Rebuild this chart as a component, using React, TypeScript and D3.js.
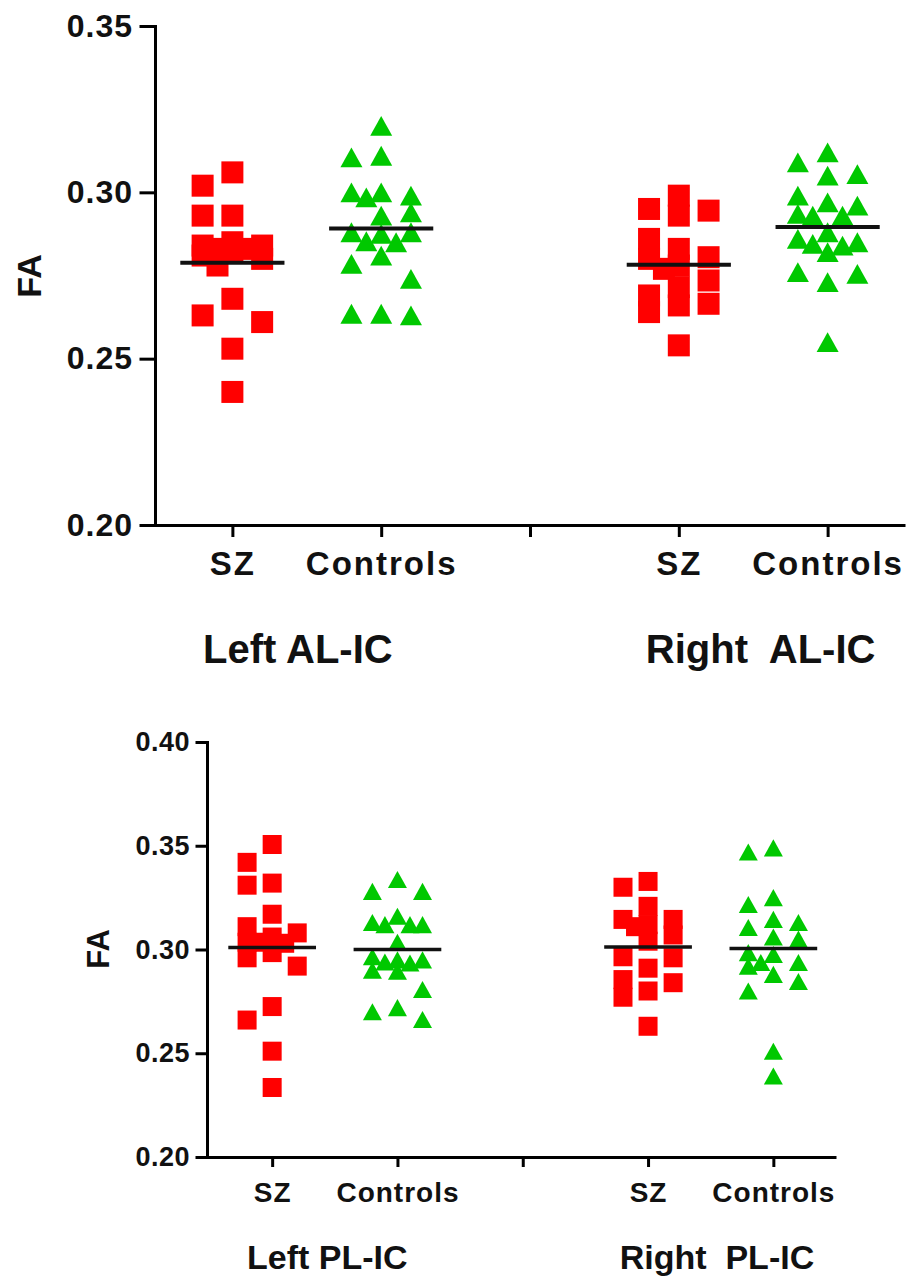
import React, { useRef, useEffect } from 'react';
import * as d3 from "d3";

const width = 910;
const height = 1284;

// category ticks: two groups per region, blank gap in the middle
const tickLabels = ["SZ", "Controls", "", "SZ", "Controls"];
const topRegions = ["Left AL-IC", "Right  AL-IC"];
const bottomRegions = ["Left PL-IC", "Right  PL-IC"];

const topYTicks = [0.20, 0.25, 0.30, 0.35];
const bottomYTicks = [0.20, 0.25, 0.30, 0.35, 0.40];

// AL-IC FA values
const leftALIC_SZ = [0.306, 0.302, 0.293, 0.293, 0.285, 0.284, 0.284, 0.283, 0.283, 0.282, 0.281, 0.280, 0.278, 0.268, 0.263, 0.261, 0.253, 0.240];
const leftALIC_Controls = [0.320, 0.311, 0.3105, 0.300, 0.300, 0.299, 0.2985, 0.294, 0.293, 0.288, 0.288, 0.2875, 0.2853, 0.285, 0.281, 0.2785, 0.274, 0.2635, 0.2635, 0.263];
const rightALIC_SZ = [0.299, 0.295, 0.2945, 0.293, 0.286, 0.283, 0.2805, 0.280, 0.278, 0.277, 0.2735, 0.2715, 0.269, 0.2665, 0.266, 0.264, 0.254];
const rightALIC_Controls = [0.312, 0.309, 0.3055, 0.305, 0.299, 0.297, 0.296, 0.2935, 0.293, 0.293, 0.288, 0.286, 0.285, 0.2845, 0.284, 0.282, 0.276, 0.2755, 0.273, 0.255];

// PL-IC FA values
const leftPLIC_SZ = [0.3506, 0.342, 0.332, 0.331, 0.317, 0.311, 0.308, 0.306, 0.3035, 0.3035, 0.303, 0.2985, 0.296, 0.292, 0.2725, 0.266, 0.251, 0.2335];
const leftPLIC_Controls = [0.3337, 0.328, 0.328, 0.316, 0.313, 0.312, 0.312, 0.312, 0.3035, 0.2965, 0.295, 0.295, 0.294, 0.2935, 0.290, 0.2895, 0.2807, 0.272, 0.270, 0.2663];
const rightPLIC_SZ = [0.3328, 0.330, 0.3208, 0.3145, 0.3145, 0.312, 0.311, 0.307, 0.304, 0.2965, 0.296, 0.291, 0.2855, 0.284, 0.280, 0.277, 0.263];
const rightPLIC_Controls = [0.349, 0.347, 0.325, 0.3217, 0.3145, 0.313, 0.3106, 0.306, 0.305, 0.2985, 0.2976, 0.2937, 0.2937, 0.292, 0.288, 0.2846, 0.280, 0.251, 0.239];

const RED = "#ff0000";
const GREEN = "#00c800";
const FONT = "'Liberation Sans', Arial, sans-serif";

// spread points sideways so markers with close values don't pile up
function spread(values, y, size, step) {
  const order = d3.range(values.length).sort((a, b) => values[b] - values[a]);
  const cands = [0, -1, 1, -0.5, 0.5];
  const placed = [];
  const out = new Array(values.length);
  for (const i of order) {
    const py = y(values[i]);
    let best = 0, bestScore = -Infinity;
    for (const c of cands) {
      const px = c * step;
      let minD = Infinity;
      for (const p of placed) {
        minD = Math.min(minD, Math.max(Math.abs(p.x - px), Math.abs(p.y - py)));
      }
      if (minD >= size + 2) { best = c; break; }
      if (minD > bestScore) { bestScore = minD; best = c; }
    }
    placed.push({ x: best * step, y: py });
    out[i] = best * step;
  }
  return out;
}

const trianglePath = s => {
  const h = s * 0.9;
  return `M0,${-h / 2}L${s / 2},${h / 2}L${-s / 2},${h / 2}Z`;
};

function drawPanel(svg, cfg) {
  const g = svg.append("g");

  const x = d3.scaleLinear().domain([-0.52, cfg.xEnd]).range([cfg.left, cfg.right]);
  const y = d3.scaleLinear().domain(cfg.yDomain).range([cfg.bottom, cfg.top]);

  const yAxis = gg => gg
    .attr("transform", `translate(${cfg.left},0)`)
    .call(d3.axisLeft(y).tickValues(cfg.yTicks).tickFormat(d3.format(".2f"))
      .tickSize(cfg.yTickSize).tickSizeOuter(0).tickPadding(cfg.yTickPad))
    .call(gg => gg.selectAll("path, line").attr("stroke", "#000").attr("stroke-width", 3).attr("stroke-linecap", "square"))
    .call(gg => gg.selectAll("text")
      .attr("font-family", FONT)
      .attr("font-size", cfg.yFont)
      .attr("font-weight", "bold")
      .attr("letter-spacing", cfg.ySpacing)
      .attr("fill", "#111"));

  const xAxis = gg => gg
    .attr("transform", `translate(0,${cfg.bottom})`)
    .call(d3.axisBottom(x).tickValues([0, 1, 2, 3, 4]).tickFormat(i => tickLabels[i])
      .tickSize(cfg.xTickSize).tickSizeOuter(0))
    .call(gg => gg.selectAll("path, line").attr("stroke", "#000").attr("stroke-width", 3))
    .call(gg => gg.selectAll("text")
      .attr("y", cfg.xLabelY)
      .attr("dy", null)
      .attr("font-family", FONT)
      .attr("font-size", cfg.xFont)
      .attr("font-weight", "bold")
      .attr("letter-spacing", cfg.xSpacing)
      .attr("fill", "#111"));

  g.append("g").call(yAxis);
  g.append("g").call(xAxis);

  const step = x(0.2) - x(0);
  cfg.series.forEach((vals, k) => {
    if (!vals) return;
    const isSZ = k % 3 === 0;
    const cx = x(k);
    const offs = spread(vals, y, cfg.marker, step);
    const marks = g.append("g");
    if (isSZ) {
      marks.selectAll("rect")
        .data(vals)
        .join("rect")
        .attr("x", (d, i) => cx + offs[i] - cfg.marker / 2)
        .attr("y", d => y(d) - cfg.marker / 2)
        .attr("width", cfg.marker)
        .attr("height", cfg.marker)
        .attr("fill", RED);
    } else {
      marks.selectAll("path")
        .data(vals)
        .join("path")
        .attr("transform", (d, i) => `translate(${cx + offs[i]},${y(d)})`)
        .attr("d", trianglePath(cfg.marker))
        .attr("fill", GREEN);
    }
    const m = d3.mean(vals);
    g.append("line")
      .attr("x1", x(k - 0.35))
      .attr("x2", x(k + 0.35))
      .attr("y1", y(m))
      .attr("y2", y(m))
      .attr("stroke", "#111")
      .attr("stroke-width", cfg.meanWidth);
  });

  g.append("text")
    .attr("transform", `translate(${cfg.faX},${cfg.faY}) rotate(-90)`)
    .attr("text-anchor", "middle")
    .attr("dominant-baseline", "central")
    .attr("font-family", FONT)
    .attr("font-size", cfg.faFont)
    .attr("font-weight", "bold")
    .attr("fill", "#111")
    .text("FA");

  g.selectAll(".region")
    .data(cfg.regions)
    .join("text")
    .attr("class", "region")
    .attr("x", (d, i) => x(i === 0 ? 0.44 : 3.55))
    .attr("y", cfg.regionY)
    .attr("text-anchor", "middle")
    .attr("font-family", FONT)
    .attr("font-size", cfg.regionFont)
    .attr("font-weight", "bold")
    .attr("fill", "#111")
    .style("white-space", "pre")
    .text(d => d);
}

export default function App() {
  const d3Container = useRef(null);

  useEffect(() => {
    if (!d3Container.current) return;
    const svg = d3.select(d3Container.current);
    svg.selectAll("*").remove();

    drawPanel(svg, {
      left: 155, right: 905, xEnd: 4.52, top: 26, bottom: 525,
      yDomain: [0.20, 0.35], yTicks: topYTicks,
      yTickSize: 14, yTickPad: 8, yFont: 32, ySpacing: 1,
      xTickSize: 12, xLabelY: 50, xFont: 33, xSpacing: 2,
      marker: 22, meanWidth: 4,
      series: [leftALIC_SZ, leftALIC_Controls, null, rightALIC_SZ, rightALIC_Controls],
      faX: 29, faY: 276, faFont: 34,
      regions: topRegions, regionY: 663, regionFont: 40
    });

    drawPanel(svg, {
      left: 207, right: 836, xEnd: 4.5, top: 742, bottom: 1157,
      yDomain: [0.20, 0.40], yTicks: bottomYTicks,
      yTickSize: 10, yTickPad: 7, yFont: 27, ySpacing: 0.5,
      xTickSize: 10, xLabelY: 45, xFont: 28, xSpacing: 1,
      marker: 19, meanWidth: 3.5,
      series: [leftPLIC_SZ, leftPLIC_Controls, null, rightPLIC_SZ, rightPLIC_Controls],
      faX: 98, faY: 949, faFont: 31,
      regions: bottomRegions, regionY: 1269, regionFont: 34
    });
  }, []);

  return (
    <div style={{ position: "absolute", left: 0, top: 0 }}>
      <svg ref={d3Container} width={width} height={height} viewBox={`0 0 ${width} ${height}`} style={{ display: "block", background: "#fff" }} />
    </div>
  );
}
